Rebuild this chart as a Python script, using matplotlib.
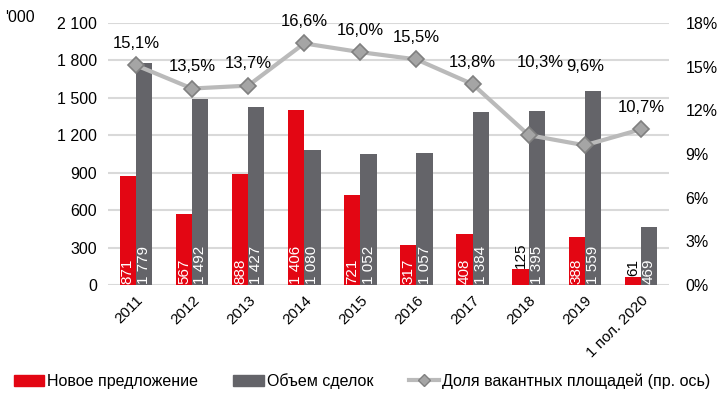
import matplotlib.pyplot as plt
from matplotlib.patches import Patch
from matplotlib.lines import Line2D
import numpy as np

plt.rcParams['font.family'] = ['Liberation Sans', 'DejaVu Sans']

categories = ['2011', '2012', '2013', '2014', '2015', '2016', '2017', '2018', '2019', '1 пол. 2020']
new_supply = [871, 567, 888, 1406, 721, 317, 408, 125, 388, 61]
deals = [1779, 1492, 1427, 1080, 1052, 1057, 1384, 1395, 1559, 469]
vacancy = [15.1, 13.5, 13.7, 16.6, 16.0, 15.5, 13.8, 10.3, 9.6, 10.7]
left_ticks = [0, 300, 600, 900, 1200, 1500, 1800, 2100]
right_ticks = [0, 3, 6, 9, 12, 15, 18]

RED = '#e30613'
DARK = '#646469'
LINE = '#bababa'

# labels moved up over the tall bars (like in the original)
label_lift = {7: 3.5, 8: 3.9}
label_shift = {7: 0.2}


def fmt_num(v):
    return f'{v:,}'.replace(',', ' ')


def fmt_pct(v):
    return f'{v:.1f}%'.replace('.', ',')


fig = plt.figure(figsize=(7.24, 3.97), dpi=100)
ax = fig.add_axes([0.149, 0.282, 0.775, 0.66])
ax2 = ax.twinx()

x = np.arange(len(categories))
w = 0.29

ax.set_axisbelow(True)
for t in left_ticks:
    ax.axhline(t, color='#d9d9d9', lw=1.5, zorder=0)

ax.bar(x - w / 2, new_supply, w, color=RED, zorder=2)
ax.bar(x + w / 2, deals, w, color=DARK, zorder=2)

for i in range(len(categories)):
    if new_supply[i] < 200:
        ax.text(x[i] - w / 2, new_supply[i] + 15, fmt_num(new_supply[i]), rotation=90,
                ha='center', va='bottom', color='black', fontsize=11, zorder=3)
    else:
        ax.text(x[i] - w / 2, 12, fmt_num(new_supply[i]), rotation=90,
                ha='center', va='bottom', color='white', fontsize=11, zorder=3)
    ax.text(x[i] + w / 2, 12, fmt_num(deals[i]), rotation=90,
            ha='center', va='bottom', color='white', fontsize=11, zorder=3)

ax.set_xlim(-0.5, len(categories) - 0.5)
ax.set_ylim(0, 2100)
ax.set_yticks(left_ticks)
ax.set_yticklabels([fmt_num(t) for t in left_ticks], fontsize=11.5)
ax.set_xticks(x)
ax.set_xticklabels(categories, rotation=45, ha='right', rotation_mode='anchor', fontsize=11)
ax.tick_params(axis='both', length=0, pad=8)
ax.tick_params(axis='x', pad=6)
for s in ax.spines.values():
    s.set_visible(False)

ax2.plot(x, vacancy, color=LINE, lw=3, marker='D', markersize=8,
         markerfacecolor='#a5a5a5', markeredgecolor='#808080', markeredgewidth=1.2, zorder=4)
for i, v in enumerate(vacancy):
    ax2.text(x[i] + label_shift.get(i, 0), v + 1.0 + label_lift.get(i, 0), fmt_pct(v),
             ha='center', va='bottom', fontsize=12)
ax2.set_ylim(0, 18)
ax2.set_yticks(right_ticks)
ax2.set_yticklabels([f'{t}%' for t in right_ticks], fontsize=11.5)
ax2.tick_params(axis='y', length=0, pad=12)
for s in ax2.spines.values():
    s.set_visible(False)
ax2.set_zorder(ax.get_zorder() + 1)
ax2.patch.set_visible(False)

fig.text(0.007, 0.955, "'000", fontsize=11.5, va='center')

handles = [Patch(color=RED), Patch(color=DARK),
           Line2D([0], [0], color=LINE, lw=3, marker='D', markersize=6,
                  markerfacecolor='#a5a5a5', markeredgecolor='#808080')]
labels = ['Новое предложение', 'Объем сделок', 'Доля вакантных площадей (пр. ось)']
fig.legend(handles, labels, loc='center', bbox_to_anchor=(0.5, 0.04), ncol=3, frameon=False,
           fontsize=11.5, handlelength=1.9, handletextpad=0.2, columnspacing=2.2)

fig.savefig('out.png', dpi=100)
